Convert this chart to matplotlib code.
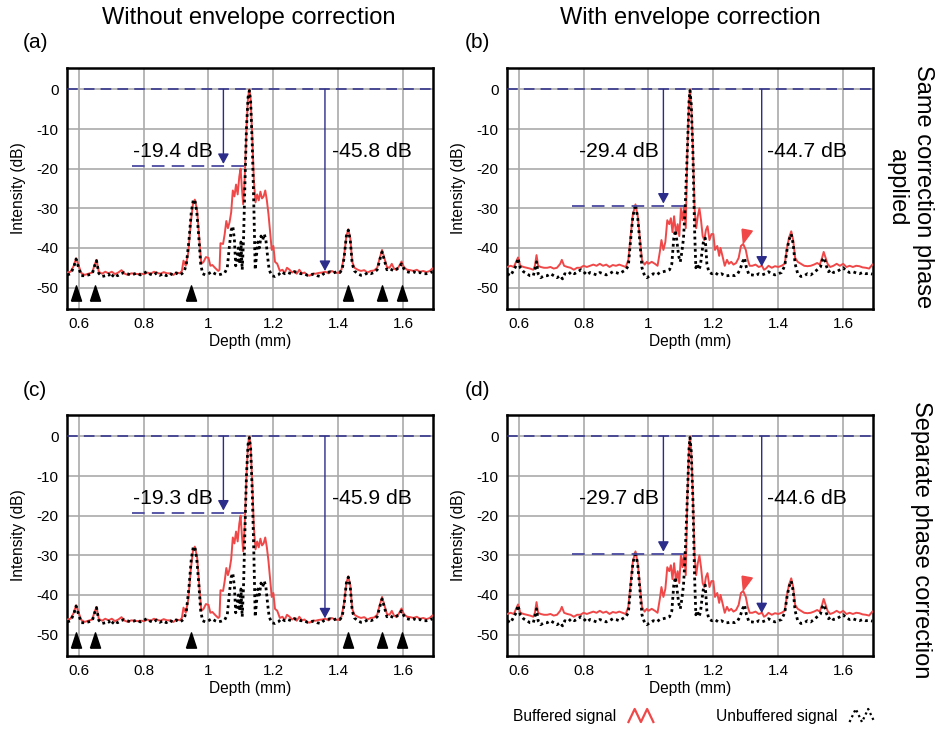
import numpy as np
import matplotlib
matplotlib.use("Agg")
import matplotlib.pyplot as plt
from matplotlib.lines import Line2D
from matplotlib.legend_handler import HandlerBase

plt.rcParams['font.family'] = ['Liberation Sans', 'DejaVu Sans']

# --- without envelope correction: buffered (red) and unbuffered (black dotted)
depth_a_buf = [0.565, 0.575, 0.585, 0.592, 0.600, 0.608, 0.618, 0.630, 0.642, 0.648, 0.655, 0.662,
               0.672, 0.682, 0.692, 0.702, 0.712, 0.722, 0.732, 0.742, 0.752, 0.762, 0.772, 0.782,
               0.792, 0.802, 0.812, 0.822, 0.832, 0.842, 0.852, 0.862, 0.872, 0.882, 0.892, 0.902,
               0.912, 0.918, 0.923, 0.930, 0.938, 0.945, 0.952, 0.958, 0.965, 0.972, 0.978, 0.985,
               0.992, 1.000, 1.006, 1.012, 1.020, 1.030, 1.034, 1.037, 1.045, 1.050, 1.055, 1.060,
               1.065, 1.070, 1.075, 1.080, 1.085, 1.090, 1.095, 1.099, 1.103, 1.107, 1.112, 1.117,
               1.122, 1.126, 1.130, 1.135, 1.140, 1.145, 1.150, 1.155, 1.160, 1.165, 1.170, 1.175,
               1.180, 1.185, 1.190, 1.195, 1.200, 1.205, 1.212, 1.220, 1.228, 1.235, 1.242, 1.250,
               1.258, 1.265, 1.272, 1.280, 1.288, 1.296, 1.304, 1.312, 1.320, 1.330, 1.340, 1.350,
               1.360, 1.370, 1.380, 1.390, 1.400, 1.410, 1.418, 1.425, 1.431, 1.437, 1.443, 1.450,
               1.460, 1.470, 1.480, 1.490, 1.500, 1.510, 1.520, 1.528, 1.535, 1.542, 1.550, 1.558,
               1.565, 1.572, 1.580, 1.588, 1.595, 1.602, 1.612, 1.622, 1.632, 1.642, 1.652, 1.662,
               1.672, 1.682, 1.690]
db_a_buf = [-46.2, -46.0, -44.5, -42.6, -44.5, -46.3, -46.8, -46.5, -46.2, -44.5, -43.0, -46.0,
            -46.5, -46.0, -46.4, -46.0, -46.6, -46.2, -45.6, -46.5, -46.8, -46.4, -46.5, -46.6,
            -46.5, -46.6, -46.2, -46.5, -46.0, -46.3, -46.5, -46.1, -46.4, -46.4, -46.8, -46.2,
            -46.4, -45.8, -43.2, -44.5, -41.0, -34.0, -29.0, -27.8, -30.5, -38.0, -44.0, -43.5,
            -42.3, -42.5, -44.5, -44.3, -45.0, -45.8, -45.5, -38.8, -39.0, -36.5, -33.2, -35.0,
            -33.5, -31.0, -25.5, -27.0, -24.0, -26.5, -22.0, -20.0, -25.0, -29.0, -22.0, -10.0,
            -2.0, 0.0, -2.5, -12.0, -23.0, -28.5, -26.5, -28.0, -25.8, -27.5, -27.0, -25.5,
            -28.0, -31.5, -36.0, -40.5, -39.5, -43.5, -44.0, -45.8, -45.5, -46.3, -45.0, -45.5,
            -46.2, -45.8, -46.5, -45.5, -46.4, -46.2, -46.8, -47.0, -46.5, -46.5, -46.3, -46.2,
            -46.0, -46.4, -45.8, -46.2, -46.3, -45.5, -42.0, -37.0, -35.3, -37.5, -43.5, -45.0,
            -45.5, -45.8, -45.6, -46.2, -45.8, -45.7, -45.0, -42.5, -40.5, -42.5, -44.8, -45.0,
            -44.0, -45.2, -45.6, -44.5, -43.4, -44.8, -45.5, -45.6, -45.8, -45.5, -46.0, -45.8,
            -46.1, -45.8, -45.2]

depth_a_unbuf = [0.565, 0.575, 0.585, 0.592, 0.600, 0.608, 0.618, 0.630, 0.642, 0.648, 0.655, 0.662,
                 0.672, 0.682, 0.692, 0.700, 0.710, 0.720, 0.730, 0.740, 0.750, 0.760, 0.770, 0.780,
                 0.790, 0.800, 0.810, 0.820, 0.830, 0.840, 0.850, 0.860, 0.870, 0.880, 0.890, 0.900,
                 0.910, 0.918, 0.925, 0.932, 0.940, 0.947, 0.953, 0.958, 0.964, 0.970, 0.976, 0.982,
                 0.990, 1.000, 1.010, 1.020, 1.030, 1.040, 1.050, 1.058, 1.064, 1.070, 1.075, 1.080,
                 1.084, 1.088, 1.092, 1.096, 1.100, 1.104, 1.108, 1.112, 1.117, 1.122, 1.126, 1.130,
                 1.135, 1.140, 1.144, 1.148, 1.152, 1.157, 1.162, 1.167, 1.172, 1.177, 1.182, 1.187,
                 1.195, 1.205, 1.215, 1.225, 1.235, 1.245, 1.255, 1.265, 1.275, 1.285, 1.295, 1.305,
                 1.315, 1.325, 1.335, 1.345, 1.355, 1.365, 1.375, 1.385, 1.395, 1.405, 1.412, 1.418,
                 1.425, 1.431, 1.437, 1.443, 1.450, 1.460, 1.470, 1.480, 1.490, 1.500, 1.510, 1.520,
                 1.528, 1.535, 1.542, 1.550, 1.558, 1.565, 1.572, 1.580, 1.588, 1.595, 1.602, 1.612,
                 1.622, 1.632, 1.642, 1.652, 1.662, 1.672, 1.682, 1.690]
db_a_unbuf = [-46.8, -46.5, -44.8, -42.8, -45.0, -47.0, -47.0, -46.8, -46.5, -44.8, -43.2, -46.4,
              -47.2, -47.0, -46.6, -47.5, -46.5, -47.0, -46.5, -46.2, -46.5, -46.8, -46.6, -46.3,
              -46.8, -46.4, -46.0, -46.6, -46.9, -46.3, -46.9, -46.5, -47.0, -46.4, -46.8, -46.3,
              -46.8, -46.5, -46.0, -44.0, -38.0, -31.0, -28.0, -27.8, -31.0, -37.0, -44.0, -46.5,
              -46.8, -46.5, -46.0, -46.5, -46.8, -46.6, -46.3, -45.0, -40.0, -35.5, -34.5, -38.0,
              -44.5, -43.0, -40.0, -44.0, -38.5, -45.5, -38.0, -25.0, -10.0, -2.0, -0.3, -3.0,
              -14.0, -30.0, -45.5, -42.0, -38.5, -40.0, -37.0, -38.0, -36.5, -38.0, -42.0, -45.5,
              -47.0, -47.2, -46.8, -46.0, -46.5, -46.2, -46.5, -46.0, -46.2, -46.5, -46.5, -46.9,
              -46.8, -46.6, -47.0, -47.2, -46.5, -46.2, -46.0, -46.3, -46.0, -46.2, -45.5, -42.5,
              -37.0, -35.5, -38.0, -44.0, -45.8, -46.5, -46.9, -46.8, -46.3, -46.5, -46.2, -45.5,
              -43.0, -41.0, -43.0, -45.5, -45.2, -45.5, -45.8, -45.3, -45.0, -44.0, -45.2, -46.0,
              -46.2, -46.0, -46.4, -46.2, -46.5, -46.5, -46.3, -46.0]

# --- with envelope correction
depth_b_buf = [0.565, 0.575, 0.585, 0.592, 0.598, 0.605, 0.615, 0.625, 0.635, 0.645, 0.650, 0.655,
               0.660, 0.668, 0.678, 0.688, 0.698, 0.708, 0.718, 0.728, 0.733, 0.740, 0.750, 0.760,
               0.770, 0.780, 0.790, 0.800, 0.810, 0.820, 0.830, 0.840, 0.850, 0.860, 0.870, 0.880,
               0.890, 0.900, 0.910, 0.920, 0.930, 0.938, 0.945, 0.952, 0.960, 0.967, 0.974, 0.980,
               0.988, 0.995, 1.000, 1.010, 1.020, 1.028, 1.035, 1.040, 1.046, 1.052, 1.058, 1.064,
               1.069, 1.074, 1.079, 1.085, 1.090, 1.095, 1.100, 1.105, 1.110, 1.115, 1.120, 1.125,
               1.128, 1.132, 1.137, 1.142, 1.147, 1.152, 1.157, 1.162, 1.167, 1.172, 1.177, 1.182,
               1.188, 1.194, 1.200, 1.205, 1.212, 1.218, 1.222, 1.228, 1.235, 1.242, 1.248, 1.255,
               1.262, 1.270, 1.278, 1.285, 1.292, 1.300, 1.306, 1.312, 1.320, 1.330, 1.340, 1.350,
               1.356, 1.362, 1.370, 1.380, 1.390, 1.400, 1.410, 1.420, 1.427, 1.433, 1.440, 1.446,
               1.452, 1.460, 1.470, 1.480, 1.490, 1.500, 1.510, 1.520, 1.528, 1.535, 1.540, 1.546,
               1.552, 1.560, 1.570, 1.580, 1.590, 1.600, 1.610, 1.620, 1.630, 1.640, 1.650, 1.660,
               1.670, 1.680, 1.690]
db_b_buf = [-44.8, -44.5, -44.8, -43.5, -42.4, -44.5, -44.8, -45.0, -45.2, -45.5, -44.5, -41.8,
            -44.5, -44.8, -45.0, -45.0, -44.8, -45.2, -45.0, -44.0, -43.0, -44.5, -44.8, -45.0,
            -45.5, -45.0, -45.0, -44.5, -44.8, -44.5, -44.2, -44.5, -44.0, -44.5, -44.2, -44.8,
            -44.3, -44.5, -44.2, -44.5, -44.8, -43.0, -37.0, -31.5, -29.0, -32.0, -38.0, -43.0,
            -44.2, -43.5, -44.0, -43.5, -44.0, -44.5, -41.0, -38.0, -40.5, -38.5, -33.0, -34.0,
            -32.5, -36.0, -32.0, -36.5, -34.0, -37.0, -30.0, -33.0, -29.5, -35.0, -15.0, -3.0,
            0.0, -4.0, -15.0, -30.0, -35.0, -32.0, -30.0, -33.0, -37.0, -38.0, -35.5, -34.5,
            -38.0, -36.5, -36.5, -40.5, -39.5, -42.0, -40.0, -42.0, -44.5, -43.0, -44.0, -43.5,
            -44.2, -43.8, -42.5, -39.5, -39.0, -40.5, -43.0, -44.5, -44.5, -44.2, -44.8, -44.5,
            -45.5, -45.2, -44.5, -45.0, -44.6, -44.8, -44.5, -44.0, -40.0, -37.5, -35.8, -38.0,
            -42.5, -43.5, -44.0, -44.5, -44.6, -44.5, -44.2, -43.8, -44.2, -42.5, -41.0, -42.5,
            -44.0, -44.8, -44.5, -44.0, -44.5, -44.0, -44.8, -44.5, -44.8, -44.5, -44.6, -44.9,
            -45.0, -45.2, -44.2]

depth_b_unbuf = [0.565, 0.575, 0.585, 0.592, 0.598, 0.605, 0.615, 0.625, 0.635, 0.645, 0.650, 0.655,
                 0.660, 0.668, 0.678, 0.688, 0.698, 0.708, 0.718, 0.728, 0.735, 0.742, 0.752, 0.762,
                 0.772, 0.782, 0.792, 0.800, 0.810, 0.820, 0.830, 0.840, 0.850, 0.860, 0.870, 0.880,
                 0.890, 0.900, 0.910, 0.920, 0.930, 0.938, 0.945, 0.952, 0.960, 0.967, 0.974, 0.980,
                 0.988, 0.995, 1.005, 1.015, 1.025, 1.035, 1.045, 1.055, 1.065, 1.072, 1.078, 1.083,
                 1.088, 1.093, 1.098, 1.103, 1.108, 1.113, 1.120, 1.125, 1.128, 1.132, 1.137, 1.142,
                 1.146, 1.150, 1.155, 1.160, 1.165, 1.170, 1.175, 1.180, 1.186, 1.195, 1.205, 1.215,
                 1.225, 1.235, 1.245, 1.255, 1.265, 1.275, 1.282, 1.290, 1.296, 1.302, 1.310, 1.320,
                 1.330, 1.340, 1.350, 1.360, 1.370, 1.380, 1.390, 1.400, 1.410, 1.420, 1.427, 1.433,
                 1.440, 1.446, 1.452, 1.460, 1.470, 1.480, 1.490, 1.500, 1.510, 1.520, 1.530, 1.536,
                 1.542, 1.548, 1.555, 1.562, 1.570, 1.580, 1.590, 1.600, 1.610, 1.620, 1.630, 1.640,
                 1.650, 1.660, 1.670, 1.680, 1.690]
db_b_unbuf = [-46.5, -47.0, -45.5, -44.5, -42.6, -45.0, -46.0, -46.5, -47.0, -47.0, -45.5, -43.5,
              -46.5, -47.5, -47.0, -47.0, -46.5, -47.0, -47.5, -47.0, -47.8, -46.5, -46.8, -46.0,
              -46.5, -46.0, -45.5, -46.0, -46.8, -46.2, -46.5, -46.8, -46.2, -46.5, -46.8, -46.5,
              -46.0, -46.2, -46.5, -46.0, -45.5, -44.5, -38.0, -32.0, -29.0, -32.5, -39.0, -45.0,
              -47.0, -47.5, -47.0, -46.5, -46.8, -46.2, -46.0, -45.8, -45.5, -44.0, -37.5, -35.5,
              -38.5, -42.0, -43.5, -41.0, -37.5, -30.0, -15.0, -3.0, -0.3, -4.0, -16.0, -35.0,
              -45.0, -44.0, -45.5, -44.5, -41.0, -38.0, -37.5, -44.0, -46.0, -46.5, -46.2, -46.8,
              -46.5, -47.0, -47.0, -46.8, -47.0, -46.5, -45.5, -43.5, -42.5, -45.0, -46.8, -46.8,
              -47.0, -46.5, -46.8, -46.5, -46.0, -46.5, -46.8, -46.5, -46.2, -44.5, -40.5, -38.0,
              -36.5, -39.0, -44.0, -46.5, -47.2, -47.0, -46.5, -46.8, -46.2, -45.5, -44.8, -43.0,
              -42.5, -44.5, -46.0, -45.5, -46.2, -46.0, -45.5, -45.0, -45.8, -46.2, -46.0, -46.3,
              -46.5, -46.2, -46.5, -46.4, -46.6]

# --- annotations per panel: (a), (b), (c), (d)
panel_labels = ['(a)', '(b)', '(c)', '(d)']
sidelobe_db = [-19.4, -29.4, -19.3, -29.7]
floor_db = [-45.8, -44.7, -45.9, -44.6]
sidelobe_arrow_depth = [1.046, 1.046, 1.046, 1.046]
floor_arrow_depth = [1.359, 1.349, 1.359, 1.349]
sidelobe_text_depth = [0.767, 0.787, 0.767, 0.787]
floor_text_depth = [1.38, 1.366, 1.38, 1.366]

# black triangles marking the reflectors (panels without envelope correction)
reflector_depths = [0.592, 0.650, 0.945, 1.430, 1.535, 1.595]
# red arrowhead pointing at the ghost peak (panels with envelope correction)
ghost_depth = 1.302
ghost_db = -36.8

column_titles = ['Without envelope correction', 'With envelope correction']
row_titles = ['Same correction phase\napplied', 'Separate phase correction']

RED = '#f04848'
NAVY = '#2c2c8a'
DASH = '#4a4aa0'
GRID = '#aaaaaa'

W, H = 935.0, 730.0


class ZigzagHandler(HandlerBase):
  def create_artists(self, legend, orig_handle, xdescent, ydescent, width, height, fontsize, trans):
    xs = np.linspace(0, width, 5) - xdescent
    ys = np.array([0.0, 1.0, 0.0, 1.0, 0.0]) * height * 1.1 - ydescent
    line = Line2D(xs, ys)
    line.update_from(orig_handle)
    line.set_transform(trans)
    return [line]


def drawPanel(ax, idx, depthBuf, dbBuf, depthUnbuf, dbUnbuf, corrected):
  ax.set_xlim(0.564, 1.692)
  ax.set_ylim(-55.4, 5.4)
  ax.set_axisbelow(True)
  ax.grid(True, color=GRID, lw=1.2)

  ax.plot(depthBuf, dbBuf, color=RED, lw=1.4, zorder=3)
  ax.plot(depthUnbuf, dbUnbuf, color='black', lw=2.0, linestyle=(0, (1, 1.2)), zorder=4)

  # reference line at the main peak
  ax.axhline(0, color=NAVY, lw=1.1, dashes=(7, 4), zorder=5)
  ax.plot([0.765, 1.113], [sidelobe_db[idx], sidelobe_db[idx]], color=DASH, lw=1.3, dashes=(7, 4), zorder=5)

  arrow = dict(arrowstyle='-|>,head_width=0.3,head_length=0.55', color=NAVY, lw=1.0,
               shrinkA=0, shrinkB=0, mutation_scale=11)
  ax.annotate('', xy=(sidelobe_arrow_depth[idx], sidelobe_db[idx] + 0.6),
              xytext=(sidelobe_arrow_depth[idx], 0), arrowprops=arrow, zorder=6)
  ax.annotate('', xy=(floor_arrow_depth[idx], floor_db[idx]),
              xytext=(floor_arrow_depth[idx], 0), arrowprops=arrow, zorder=6)

  ax.text(sidelobe_text_depth[idx], -15.6, '%.1f dB' % sidelobe_db[idx], fontsize=15.2,
          ha='left', va='center', zorder=7)
  ax.text(floor_text_depth[idx], -15.6, '%.1f dB' % floor_db[idx], fontsize=15.2,
          ha='left', va='center', zorder=7)

  if corrected:
    flag = [(-0.35, 0.5), (0.45, 0.35), (-0.25, -0.6), (-0.35, 0.5)]
    ax.plot([ghost_depth], [ghost_db], marker=flag, markersize=11, color=RED, linestyle='none', zorder=8)
  else:
    tri = [(-0.33, -0.5), (0.33, -0.5), (0.0, 0.5), (-0.33, -0.5)]
    ax.plot(reflector_depths, [-51.3] * len(reflector_depths), marker=tri, markersize=11,
            color='black', linestyle='none', zorder=8)

  ax.set_xticks([0.6, 0.8, 1.0, 1.2, 1.4, 1.6])
  ax.set_xticklabels(['0.6', '0.8', '1', '1.2', '1.4', '1.6'])
  ax.set_yticks([0, -10, -20, -30, -40, -50])
  ax.set_yticklabels(['0', '-10', '-20', '-30', '-40', '-50'])
  ax.tick_params(length=0, labelsize=11, pad=6)
  ax.set_xlabel('Depth (mm)', fontsize=11.2, labelpad=2)
  ax.set_ylabel('Intensity (dB)', fontsize=11.2, labelpad=8)
  for spine in ax.spines.values():
    spine.set_linewidth(1.8)


def makePlot():
  fig = plt.figure(figsize=(9.35, 7.3), dpi=100)

  lefts = [67, 507, 67, 507]
  tops = [68, 68, 415, 415]
  labelPos = [(23, 43), (465, 43), (23, 390), (465, 390)]

  for idx in range(4):
    ax = fig.add_axes([lefts[idx] / W, 1 - (tops[idx] + 241) / H, 366 / W, 241 / H])
    if idx % 2 == 0:
      drawPanel(ax, idx, depth_a_buf, db_a_buf, depth_a_unbuf, db_a_unbuf, False)
    else:
      drawPanel(ax, idx, depth_b_buf, db_b_buf, depth_b_unbuf, db_b_unbuf, True)
    fig.text(labelPos[idx][0] / W, 1 - labelPos[idx][1] / H, panel_labels[idx],
             fontsize=15, ha='left', va='center')

  fig.text(249 / W, 1 - 18 / H, column_titles[0], fontsize=17, ha='center', va='center')
  fig.text(690 / W, 1 - 18 / H, column_titles[1], fontsize=17, ha='center', va='center')

  fig.text(910 / W, 1 - 187 / H, row_titles[0], fontsize=17, rotation=270,
           ha='center', va='center', multialignment='center')
  fig.text(921 / W, 1 - 540 / H, row_titles[1], fontsize=17, rotation=270,
           ha='center', va='center')

  bufHandle = Line2D([], [], color=RED, lw=1.6)
  unbufHandle = Line2D([], [], color='black', lw=1.6, linestyle=(0, (1, 1.4)))
  fig.legend([bufHandle, unbufHandle], ['Buffered signal', 'Unbuffered signal'],
             handler_map={Line2D: ZigzagHandler()}, loc='center left',
             bbox_to_anchor=(505 / W, 1 - 717 / H), ncol=2, frameon=False, markerfirst=False,
             handlelength=1.6, handletextpad=0.8, columnspacing=4.0, borderpad=0,
             fontsize=11.2, handleheight=0.8)

  fig.savefig('out.png', dpi=100)


if __name__ == "__main__":
  makePlot()
